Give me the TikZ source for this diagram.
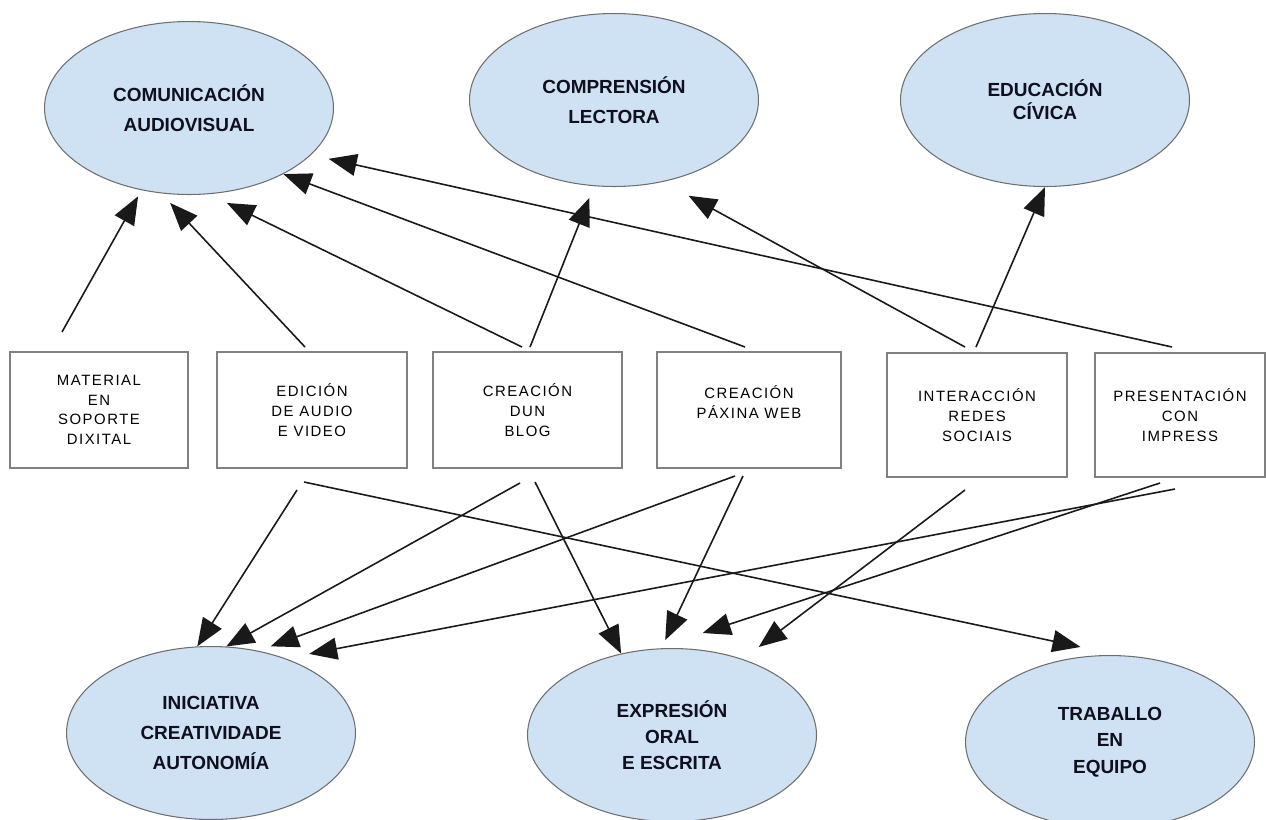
\documentclass[tikz,border=0pt]{standalone}
\usepackage{fontspec}
\setmainfont{Liberation Sans}
\newfontfamily\boxfont[LetterSpace=10]{Liberation Sans}
\usetikzlibrary{shapes.geometric,arrows.meta}
\definecolor{goalfill}{RGB}{207,226,243}
\definecolor{goalline}{RGB}{110,110,110}
\definecolor{boxline}{RGB}{128,128,128}
\definecolor{goaltext}{RGB}{15,15,30}
\begin{document}
\begin{tikzpicture}[x=0.02cm,y=-0.02cm,
  goal/.style={ellipse, draw=goalline, line width=0.6pt, fill=goalfill,
    minimum width=5.78cm, minimum height=3.46cm, inner sep=0pt,
    align=center, text=goaltext},
  gfont/.style={font=\bfseries\fontsize{10.8}{#1}\selectfont},
  toolbox/.style={rectangle, draw=boxline, line width=0.75pt, fill=white,
    inner sep=0pt, align=center, font=\boxfont\fontsize{8.5}{11.2}\selectfont},
  arr/.style={draw=black!90, line width=0.9pt,
    -{Triangle[length=0.56cm,width=0.44cm]}}]
\useasboundingbox (0,0) rectangle (1266,819);

% goal ellipses
\node[goal, gfont=17pt] (ca) at (189,108) {COMUNICACIÓN\\AUDIOVISUAL};
\node[goal, gfont=17pt] (cl) at (614,100) {COMPRENSIÓN\\LECTORA};
\node[goal, gfont=13pt] (ec) at (1045,100) {EDUCACIÓN\\CÍVICA};
\node[goal, gfont=17pt] (ic) at (211,733) {INICIATIVA\\CREATIVIDADE\\AUTONOMÍA};
\node[goal, gfont=14.8pt] (eo) at (672,735) {EXPRESIÓN\\ORAL\\E ESCRITA};
\node[goal, gfont=15.2pt] (te) at (1110,742) {TRABALLO\\EN\\EQUIPO};

% tool boxes
\node[toolbox, minimum width=3.56cm, minimum height=2.32cm] (mat) at (99,410) {MATERIAL\\EN\\SOPORTE\\DIXITAL};
\node[toolbox, minimum width=3.80cm, minimum height=2.32cm] (edi) at (312,410) {EDICIÓN\\DE AUDIO\\E VIDEO};
\node[toolbox, minimum width=3.78cm, minimum height=2.32cm] (blo) at (527.5,410) {CREACIÓN\\DUN\\BLOG};
\node[toolbox, minimum width=3.68cm, minimum height=2.32cm] (pax) at (749,410) {CREACIÓN\\PÁXINA WEB\\[-2.2pt]};
\node[toolbox, minimum width=3.60cm, minimum height=2.48cm] (int) at (977,415) {INTERACCIÓN\\REDES\\SOCIAIS};
\node[toolbox, minimum width=3.40cm, minimum height=2.48cm] (pre) at (1180,415) {PRESENTACIÓN\\CON\\IMPRESS};

% free tail ends of the connectors
\coordinate (tMat) at (62,332);
\coordinate (tEd) at (305,347);
\coordinate (tBlA) at (522,347);
\coordinate (tBlB) at (530,347);
\coordinate (tPx) at (745,347);
\coordinate (tInA) at (965,347);
\coordinate (tInB) at (976,347);
\coordinate (tPr) at (1172,347);
\coordinate (bEdA) at (297,490);
\coordinate (bEdB) at (304,482);
\coordinate (bBlA) at (520,483);
\coordinate (bBlB) at (535,482);
\coordinate (bPxA) at (735,476);
\coordinate (bPxB) at (743,476);
\coordinate (bIn) at (965,490);
\coordinate (bPrA) at (1160,483);
\coordinate (bPrB) at (1175,489);

% upward connectors
\draw[arr, shorten >=0.14cm] (tMat) -- (ca.-120);
\draw[arr, shorten >=0.26cm] (tEd) -- (ca.-108);
\draw[arr, shorten >=0.40cm] (tBlA) -- (ca.-77);
\draw[arr] (tPx) -- (ca.-35);
\draw[arr, shorten >=0.36cm] (tPr) -- (ca.-21);
\draw[arr, shorten >=0.25cm] (tBlB) -- (cl.-103);
\draw[arr, shorten >=0.58cm] (tInA) -- (cl.-59.5);
\draw[arr] (tInB) -- (ec.-90);

% downward connectors
\draw[arr] (bEdA) -- (ic.99);
\draw[arr] (bBlA) -- (ic.80);
\draw[arr, shorten >=0.26cm] (bPxA) -- (ic.60);
\draw[arr, shorten >=0.48cm] (bPrB) -- (ic.45);
\draw[arr] (bBlB) -- (eo.122);
\draw[arr, shorten >=0.18cm] (bPxB) -- (eo.97);
\draw[arr, shorten >=1.0cm] (bPrA) -- (eo.101.4);
\draw[arr, shorten >=0.40cm] (bIn) -- (eo.47);
\draw[arr, shorten >=0.79cm] (bEdB) -- (te.84);
\end{tikzpicture}
\end{document}
